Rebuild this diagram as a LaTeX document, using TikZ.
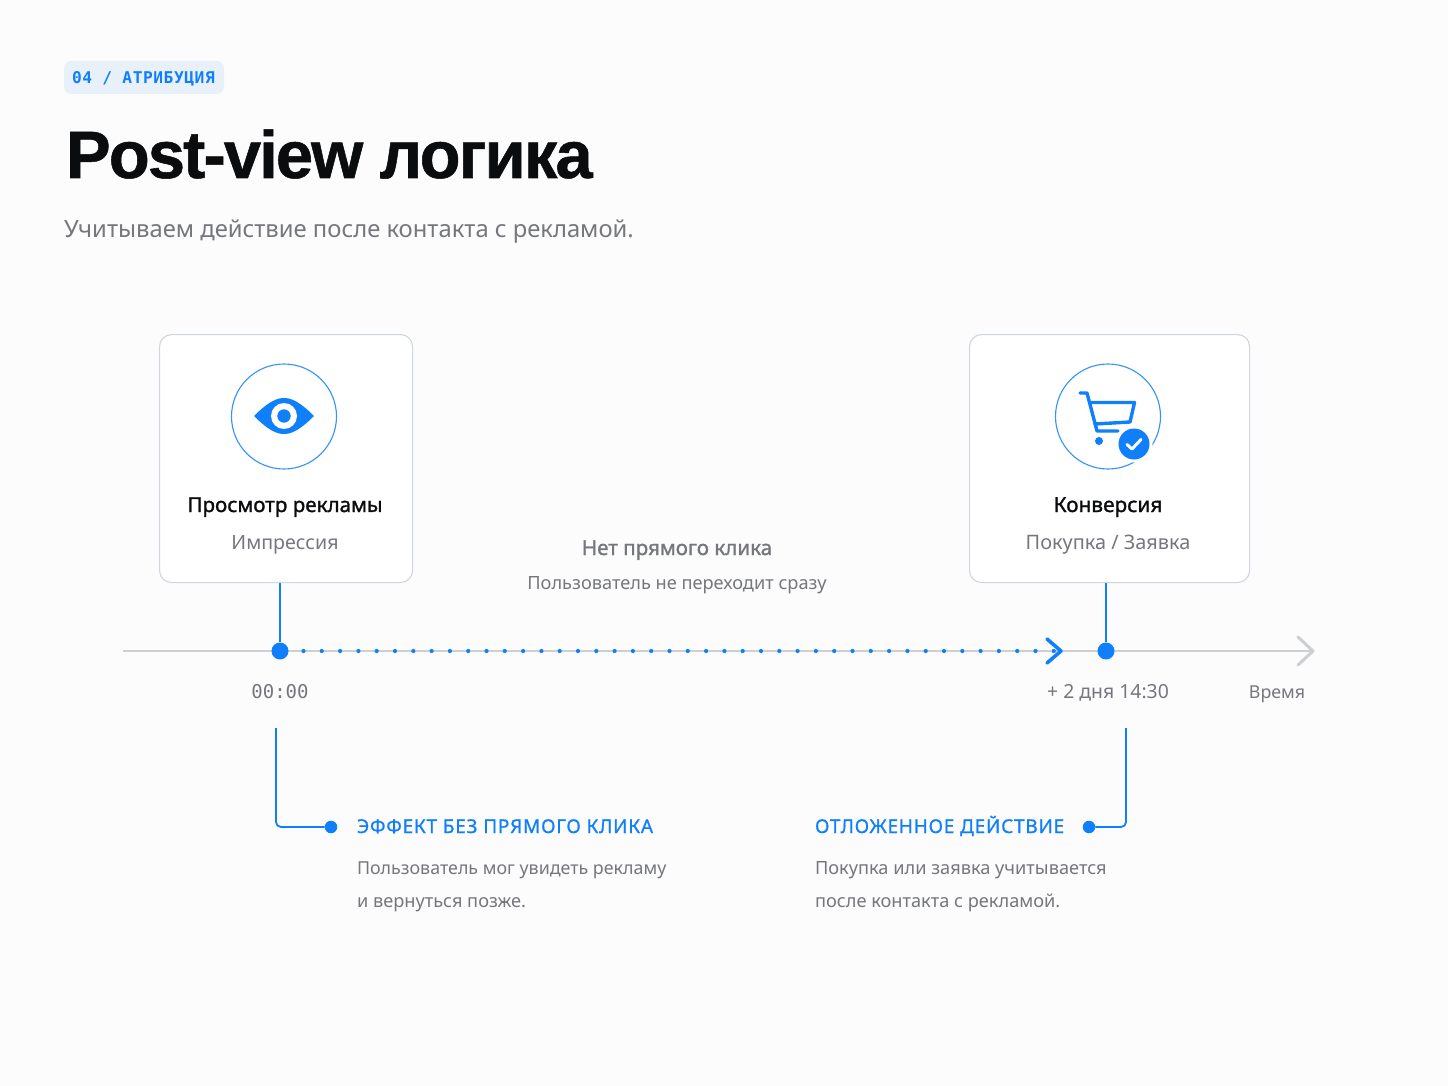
\documentclass[tikz,border=0pt]{standalone}
\usepackage{fontspec}
\setmainfont{Noto Sans}
\newfontfamily\titlefont[LetterSpace=-2.9,FakeBold=0.8]{Liberation Sans}
\newfontfamily\monofont{DejaVu Sans Mono}
\newfontfamily\medfont[FakeBold=1.3]{Noto Sans}
\newfontfamily\headfont[FakeBold=0.9,LetterSpace=4]{Noto Sans}
\definecolor{pagebg}{HTML}{FCFCFD}
\definecolor{accent}{HTML}{0F7FFB}
\definecolor{chipbg}{HTML}{E8F0FA}
\definecolor{cardline}{HTML}{CFD6DE}
\definecolor{axisline}{HTML}{CDCFD3}
\definecolor{greytext}{HTML}{75777C}
\definecolor{inktext}{HTML}{0B0C0E}
\tikzset{
  txt/.style={inner sep=0pt,outer sep=0pt},
  lft/.style={txt,anchor=base west},
  mid/.style={txt,anchor=base},
  card/.style={draw=cardline,line width=1.1pt,fill=white,rounded corners=12pt},
  wire/.style={draw=accent,line width=1.8pt},
  enddot/.style={circle,fill=accent,inner sep=0pt,minimum size=#1},
  chevron/.style={line width=#1,line cap=round,line join=round},
  body/.style={txt,anchor=base west,font=\fontsize{18.2}{20}\selectfont,text=greytext},
  head/.style={txt,anchor=base west,font=\headfont\fontsize{19}{20}\selectfont,text=accent},
  ring/.style={draw=accent!85!white,line width=1.1pt},
}
\begin{document}
\begin{tikzpicture}[x=1pt,y=-1pt]
\useasboundingbox[fill=pagebg] (0,0) rectangle (1448,1086);
% header
\fill[chipbg] (64,61) [rounded corners=7pt] rectangle (224,94);
\node[lft,text=accent,font=\monofont\bfseries\fontsize{16.2}{18}\selectfont\addfontfeature{LetterSpace=3.5}] (chip) at (72,83.5) {04 / АТРИБУЦИЯ};
\node[lft,text=inktext,font=\titlefont\bfseries\fontsize{67}{70}\selectfont] (title) at (66,178) {Post-view логика};
\node[lft,text=greytext,font=\fontsize{23.8}{26}\selectfont] (sub) at (64,237) {Учитываем действие после контакта с рекламой.};
% cards
\node[card,minimum width=253pt,minimum height=248pt,anchor=north west] (c1) at (159,334) {};
\node[card,minimum width=280pt,minimum height=248pt,anchor=north west] (c2) at (969,334) {};
\node[mid,text=inktext,font=\medfont\fontsize{20.6}{22}\selectfont] (c1t) at (285,512) {Просмотр рекламы};
\node[mid,text=greytext,font=\fontsize{19.6}{22}\selectfont] (c1s) at (285,549) {Импрессия};
\node[mid,text=inktext,font=\medfont\fontsize{20.8}{22}\selectfont] (c2t) at (1108,512) {Конверсия};
\node[mid,text=greytext,font=\fontsize{19.9}{22}\selectfont] (c2s) at (1108,549) {Покупка / Заявка};
% eye icon
\draw[ring] (284,416.5) circle (52.5);
\fill[accent] (254,416) .. controls (266,404) and (275,398) .. (284,398) .. controls (293,398) and (302,404) .. (314,416) .. controls (302,428) and (293,434) .. (284,434) .. controls (275,434) and (266,428) .. (254,416) -- cycle;
\fill[white] (284,416) circle (13);
\fill[accent] (284,416) circle (6.7);
% cart icon
\draw[ring] (1108,416.5) circle (52.5);
\draw[accent,line width=3.4pt,line cap=round,line join=round] (1080,393) -- (1087,393) -- (1097,431) -- (1118,431);
\draw[accent,line width=3.4pt,line cap=round,line join=round] (1091,402.5) -- (1134.5,402.5) -- (1130,422) -- (1095,424);
\fill[accent] (1099,441) circle (4);
\fill[white] (1134,444) circle (18.5);
\fill[accent] (1134,444) circle (15.5);
\draw[white,line width=3pt,line cap=round,line join=round] (1127,444.5) -- (1132,449) -- (1141,439.5);
% middle label
\node[mid,text=greytext,font=\medfont\fontsize{20.6}{22}\selectfont] (nc) at (677,555) {Нет прямого клика};
\node[mid,text=greytext,font=\fontsize{18.2}{20}\selectfont] (ncs) at (677,589) {Пользователь не переходит сразу};
% axis
\coordinate (axs) at (123,651);
\coordinate (axe) at (1313,651);
\draw[axisline,line width=2.8pt] (axs) -- (axe);
\draw[axisline,chevron=3pt] (1298,637) -- (axe) -- (1298,665);
\node[enddot=17pt] (d1) at (280,651) {};
\node[enddot=17pt] (d2) at (1106,651) {};
\draw[wire] (c1.south -| d1) -- (d1);
\draw[wire] (c2.south -| d2) -- (d2);
% dotted run
\coordinate (dots) at (303.5,651);
\coordinate (tip) at (1061,651);
\draw[accent,line width=4.2pt,line cap=round,dash pattern=on 0pt off 18.3pt] (dots) -- (tip);
\draw[accent,chevron=3.6pt] (1047,639) -- (tip) -- (1047,663);
% times
\node[mid,text=greytext,font=\monofont\fontsize{19}{22}\selectfont] (t1) at (280,698) {00:00};
\node[mid,text=greytext,font=\fontsize{19.4}{22}\selectfont] (t2) at (1108,698) {+ 2 дня 14:30};
\node[mid,text=greytext,font=\fontsize{17.8}{22}\selectfont] (t3) at (1277,698) {Время};
% callouts
\coordinate (b1) at (276,728);
\coordinate (b2) at (1126,728);
\node[enddot=12.5pt] (e1) at (331,827) {};
\node[enddot=12.5pt] (e2) at (1089,827) {};
\draw[wire,rounded corners=5pt] (b1) |- (e1);
\draw[wire,rounded corners=5pt] (b2) |- (e2);
\node[head] (h1) at (357,833) {ЭФФЕКТ БЕЗ ПРЯМОГО КЛИКА};
\node[body,font=\fontsize{17.85}{20}\selectfont] (h1a) at (357,874) {Пользователь мог увидеть рекламу};
\node[body] (h1b) at (357,907) {и вернуться позже.};
\node[head] (h2) at (815,833) {ОТЛОЖЕННОЕ ДЕЙСТВИЕ};
\node[body] (h2a) at (815,874) {Покупка или заявка учитывается};
\node[body] (h2b) at (815,907) {после контакта с рекламой.};
\end{tikzpicture}
\end{document}
